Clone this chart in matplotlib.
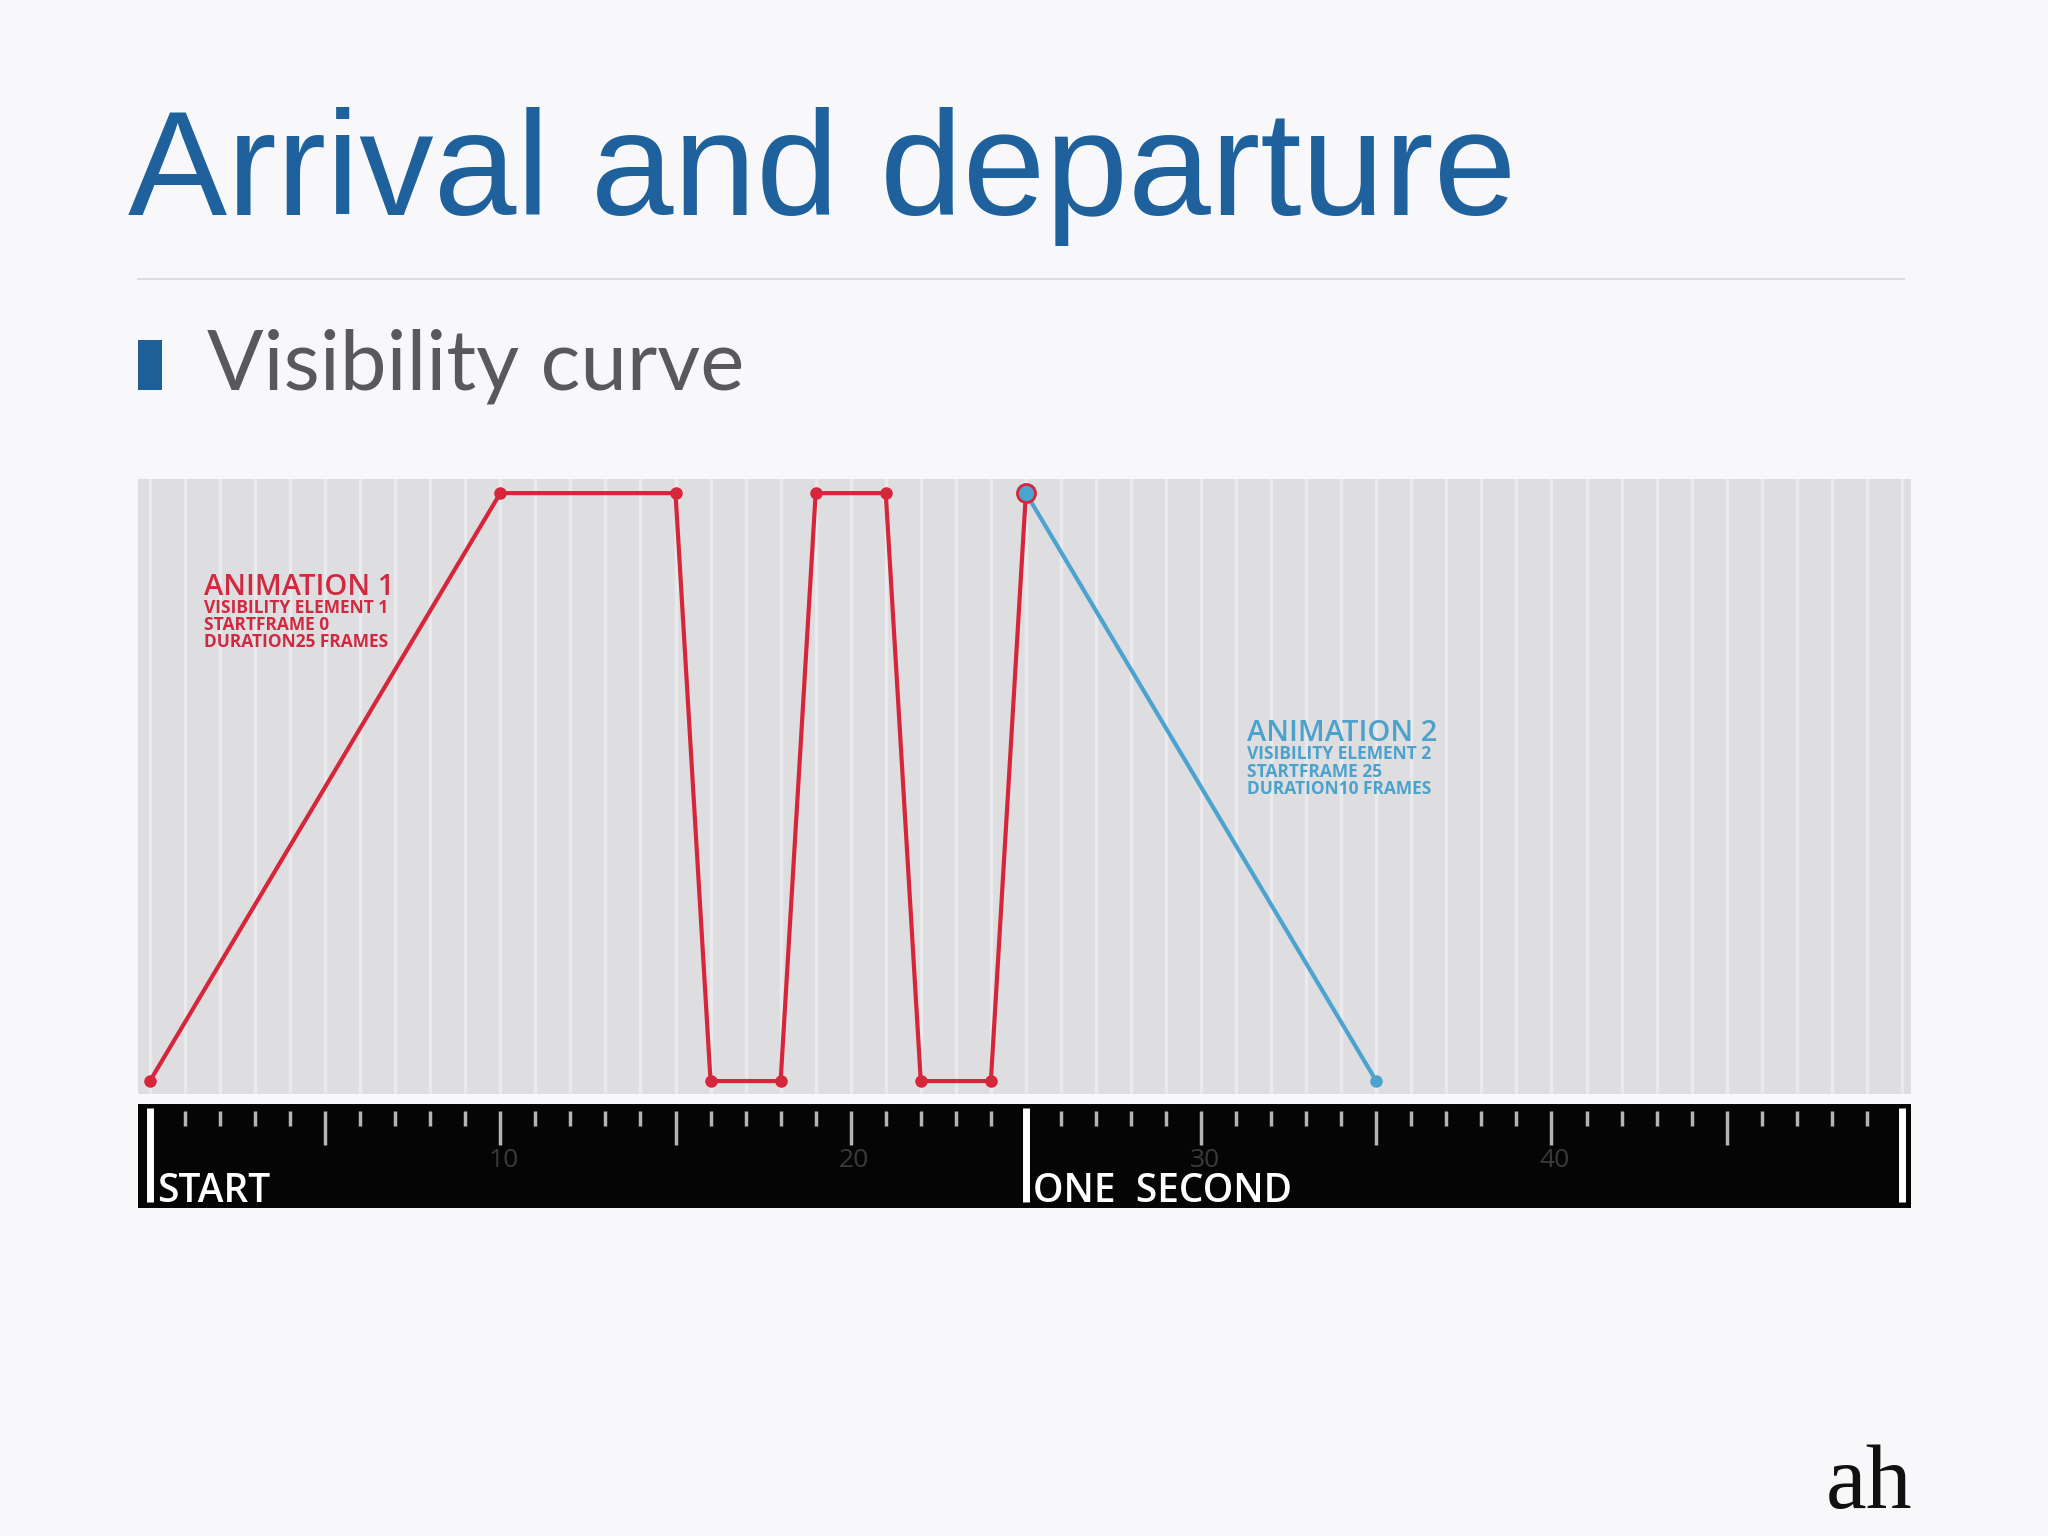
import matplotlib
matplotlib.use("Agg")
import matplotlib.pyplot as plt

# visibility curves (frame, visibility)
anim1_frames = [0, 10, 15, 16, 18, 19, 21, 22, 24, 25]
anim1_vis = [0, 1, 1, 0, 0, 1, 1, 0, 0, 1]
anim2_frames = [25, 35]
anim2_vis = [1, 0]

anim1_text = ["ANIMATION 1", "VISIBILITY ELEMENT 1", "STARTFRAME 0", "DURATION25 FRAMES"]
anim2_text = ["ANIMATION 2", "VISIBILITY ELEMENT 2", "STARTFRAME 25", "DURATION10 FRAMES"]

ruler_labels = [10, 20, 30, 40]
ruler_marks = {0: "START", 25: "ONE  SECOND"}
n_frames = 50

RED = "#d6263b"
BLUE = "#4ba3cf"
BG = "#f8f8fa"

W, H = 2048, 1536
fig = plt.figure(figsize=(20.48, 15.36), dpi=100, facecolor=BG)

# slide heading
fig.text(128 / W, 1 - 215 / H, "Arrival and departure", fontsize=107,
         family="Liberation Sans", color="#1f619c", va="baseline")
fig.add_artist(plt.Line2D([138 / W, 1904 / W], [1 - 279 / H, 1 - 279 / H],
                          color="#dcdcdf", lw=1.5))
fig.add_artist(plt.Rectangle((138 / W, 1 - 390 / H), 24 / W, 50 / H,
                             color="#1d5f96", lw=0))
fig.text(207 / W, 1 - 390 / H, "Visibility curve", fontsize=60,
         family="Lato", color="#59585c", va="baseline")

# curve panel
x0, x1 = -0.34, 50.26
ax = fig.add_axes([138 / W, 1 - 1094 / H, (1911 - 138) / W, (1094 - 479) / H])
ax.set_facecolor("#dedee0")
ax.set_xlim(x0, x1)
ax.set_ylim(-0.022, 1.024)
for f in range(0, n_frames + 1):
    ax.axvline(f, color="#eaeaec", lw=2.5, zorder=1)
for s in ax.spines.values():
    s.set_visible(False)
ax.set_xticks([])
ax.set_yticks([])

ax.plot(anim1_frames, anim1_vis, color=RED, lw=3, marker="o", ms=8, zorder=3)
ax.plot(anim2_frames, anim2_vis, color=BLUE, lw=3, marker="o", ms=8, zorder=4)
ax.plot(anim2_frames[:1], anim2_vis[:1], "o", color=BLUE, ms=13,
        mec=RED, mew=2, zorder=5)

def label_block(x, y, lines, color):
    ax.text(x, y, lines[0], color=color, fontsize=21, family="Open Sans",
            weight="semibold", va="baseline")
    for i, t in enumerate(lines[1:]):
        ax.text(x, y - 0.031 - 0.029 * i, t, color=color, fontsize=12.5,
                family="Open Sans", weight="bold", va="baseline")

label_block(1.55, 0.827, anim1_text, "#cf2a40")
label_block(31.3, 0.578, anim2_text, "#4ba2cc")

# ruler
rx = fig.add_axes([138 / W, 1 - 1208 / H, (1911 - 138) / W, (1208 - 1104) / H])
rx.set_facecolor("#050505")
rx.set_xlim(x0, x1)
rx.set_ylim(0, 1)
rx.set_xticks([])
rx.set_yticks([])
for s in rx.spines.values():
    s.set_visible(False)

small = [f for f in range(1, n_frames) if f % 5 and f not in ruler_marks]
big = [f for f in range(5, n_frames, 5) if f not in ruler_marks]
rx.vlines(small, 0.79, 0.935, color="#b4b4b4", lw=2.5)
rx.vlines(big, 0.61, 0.935, color="#b4b4b4", lw=2.5)
rx.vlines(list(ruler_marks) + [n_frames], 0.06, 0.96, color="white", lw=5)
for v in ruler_labels:
    rx.text(v + 0.1, 0.46, str(v), color="#3a3a3a", fontsize=19,
            family="Open Sans", ha="center", va="center")
for f, t in ruler_marks.items():
    rx.text(f + 0.2, 0.06, t, color="white", fontsize=28,
            family="Open Sans", weight="semibold", va="baseline")

# logo
fig.text(1826 / W, 1 - 1508 / H, "ah", fontsize=66, family="Liberation Serif",
         color="#111111", va="baseline")

fig.savefig("out.png", dpi=100, facecolor=BG)
